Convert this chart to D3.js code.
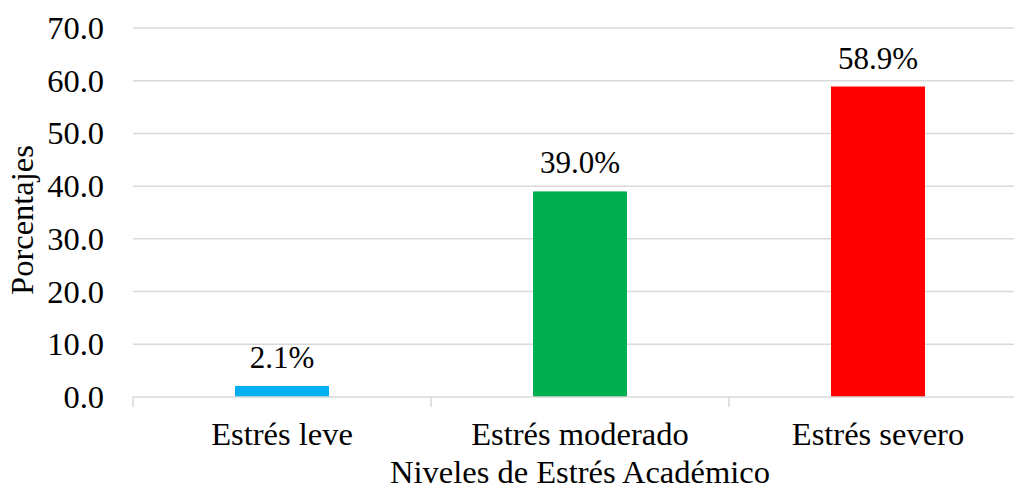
<!DOCTYPE html>
<html>
<head>
<meta charset="utf-8">
<script src="https://cdn.jsdelivr.net/npm/d3@7"></script>
<style>
  html, body { margin: 0; padding: 0; background: #fff; }
  svg { display: block; }
</style>
</head>
<body>
<div id="chart"></div>
<script>
const categories = ["Estrés leve", "Estrés moderado", "Estrés severo"];
const values = [2.1, 39.0, 58.9];
const colors = ["#00B0F0", "#00B050", "#FF0000"];
const yTicks = [0, 10, 20, 30, 40, 50, 60, 70];
const xTitle = "Niveles de Estrés Académico";
const yTitle = "Porcentajes";

(function () {
const W = 1014, H = 491;
const pLeft = 133, pRight = 1027, pTop = 28, pBottom = 397;
const FONT = "'Times New Roman', 'Liberation Serif', 'DejaVu Serif', serif";

const svg = d3.select("#chart").append("svg").attr("width", W).attr("height", H)
  .style("font-family", FONT);

const x = d3.scaleBand().domain(categories).range([pLeft, pRight]).paddingInner(0).paddingOuter(0);
const y = d3.scaleLinear().domain([0, 70]).range([pBottom, pTop]);

// gridlines
svg.append("g").selectAll("line").data(yTicks.filter(d => d > 0)).join("line")
  .attr("x1", pLeft).attr("x2", pRight)
  .attr("y1", d => y(d)).attr("y2", d => y(d))
  .attr("stroke", "#d9d9d9").attr("stroke-width", 1.5);

// y tick labels
svg.append("g").selectAll("text").data(yTicks).join("text")
  .attr("x", 104).attr("y", d => y(d))
  .attr("text-anchor", "end").attr("dominant-baseline", "central")
  .attr("font-family", FONT)
  .style("font-size", "32.5px")
  .text(d => d.toFixed(1));

// bars
const barW = 94;
svg.append("g").selectAll("rect").data(values).join("rect")
  .attr("x", (d, i) => x(categories[i]) + x.bandwidth() / 2 - barW / 2)
  .attr("width", barW)
  .attr("y", d => y(d))
  .attr("height", d => y(0) - y(d))
  .attr("fill", (d, i) => colors[i]);

// x axis line
svg.append("line").attr("x1", pLeft).attr("x2", pRight)
  .attr("y1", y(0)).attr("y2", y(0))
  .attr("stroke", "#d9d9d9").attr("stroke-width", 1.5);

// category boundary ticks
const bounds = categories.map(c => x(c));
svg.append("g").selectAll("line").data(bounds).join("line")
  .attr("x1", d => d).attr("x2", d => d)
  .attr("y1", y(0)).attr("y2", y(0) + 10)
  .attr("stroke", "#d9d9d9").attr("stroke-width", 1.5);

// category labels
svg.append("g").selectAll("text").data(categories).join("text")
  .attr("x", d => x(d) + x.bandwidth() / 2)
  .attr("y", 445)
  .attr("text-anchor", "middle")
  .attr("font-family", FONT)
  .style("font-size", "32.5px")
  .text(d => d);

// data labels
svg.append("g").selectAll("text").data(values).join("text")
  .attr("x", (d, i) => x(categories[i]) + x.bandwidth() / 2)
  .attr("y", d => y(d) - 18)
  .attr("text-anchor", "middle")
  .attr("font-family", FONT)
  .style("font-size", "31px")
  .text(d => d.toFixed(1) + "%");

// axis titles
svg.append("text")
  .attr("x", 580).attr("y", 483)
  .attr("text-anchor", "middle")
  .attr("font-family", FONT)
  .style("font-size", "32.5px")
  .text(xTitle);

svg.append("text")
  .attr("transform", `translate(33, 220) rotate(-90)`)
  .attr("text-anchor", "middle")
  .attr("font-family", FONT)
  .style("font-size", "32.5px")
  .text(yTitle);
})();
</script>
</body>
</html>
